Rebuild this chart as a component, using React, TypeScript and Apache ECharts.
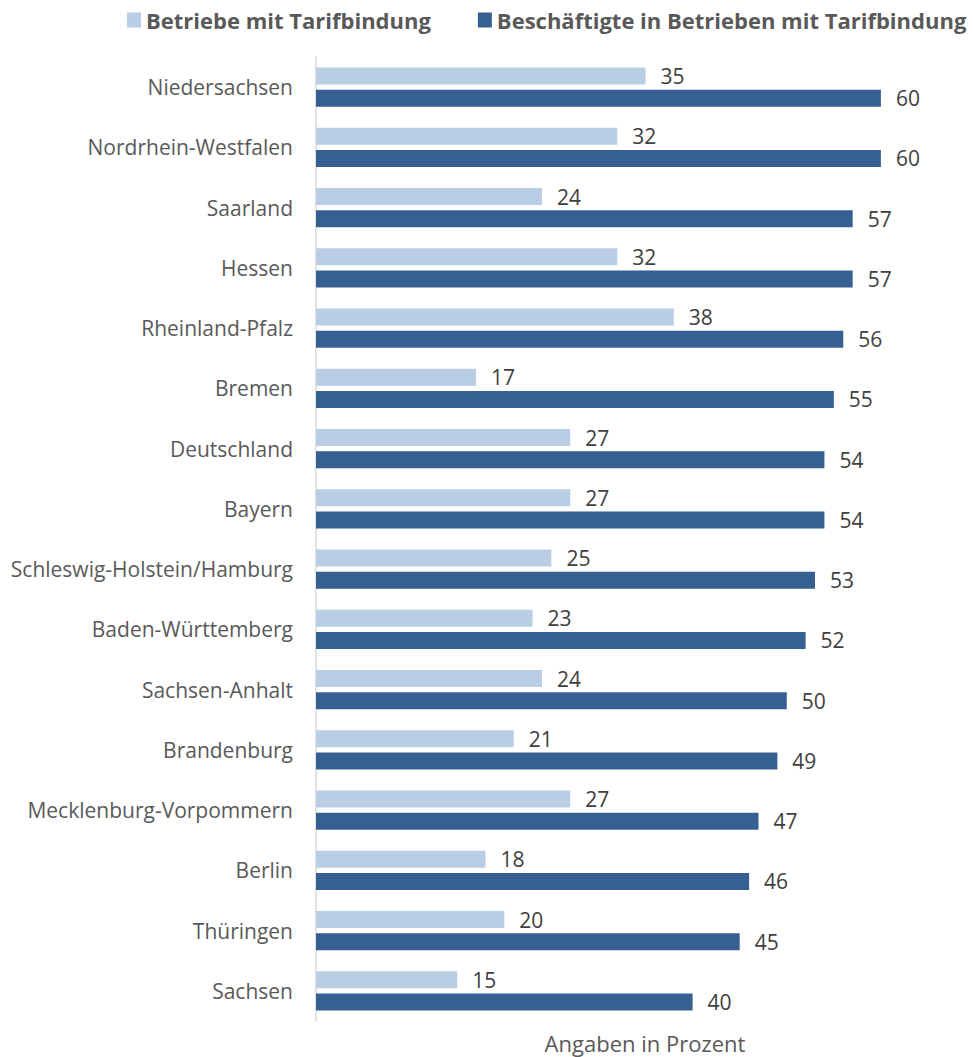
import React, { useEffect, useRef } from "react";
import * as echarts from "echarts";

const categories = [
  "Niedersachsen",
  "Nordrhein-Westfalen",
  "Saarland",
  "Hessen",
  "Rheinland-Pfalz",
  "Bremen",
  "Deutschland",
  "Bayern",
  "Schleswig-Holstein/Hamburg",
  "Baden-Württemberg",
  "Sachsen-Anhalt",
  "Brandenburg",
  "Mecklenburg-Vorpommern",
  "Berlin",
  "Thüringen",
  "Sachsen",
];
const betriebe = [35, 32, 24, 32, 38, 17, 27, 27, 25, 23, 24, 21, 27, 18, 20, 15];
const beschaeftigte = [60, 60, 57, 57, 56, 55, 54, 54, 53, 52, 50, 49, 47, 46, 45, 40];
const seriesNames = ["Betriebe mit Tarifbindung", "Beschäftigte in Betrieben mit Tarifbindung"];
const axisName = "Angaben in Prozent";

const FONT = "'Open Sans', sans-serif";

export default function App() {
  const ref = useRef<HTMLDivElement>(null);
  useEffect(() => {
    document.body.style.margin = "0";
    const chart = echarts.init(ref.current!, null, { renderer: "svg" });
    chart.setOption({
      animation: false,
      backgroundColor: "#ffffff",
      textStyle: { fontFamily: FONT },
      legend: {
        top: 4,
        left: 122,
        width: 900,
        padding: 5,
        itemWidth: 14,
        itemHeight: 15,
        itemGap: 47,
        icon: "rect",
        textStyle: { fontFamily: FONT, fontSize: 22, fontWeight: "bold", color: "#595959" },
        data: seriesNames,
      },
      grid: { left: 316, top: 57, width: 612, height: 964, containLabel: false },
      xAxis: {
        type: "value",
        min: 0,
        max: 65,
        axisLine: { show: false },
        axisTick: { show: false },
        axisLabel: { show: false },
        splitLine: { show: false },
      },
      yAxis: {
        type: "category",
        inverse: true,
        data: categories,
        axisLine: { show: true, lineStyle: { color: "#d9d9d9", width: 1.5 } },
        axisTick: { show: false },
        axisLabel: { fontFamily: FONT, fontSize: 21, color: "#595959", margin: 23 },
      },
      graphic: [
        {
          type: "text",
          x: 645,
          y: 1043,
          style: {
            text: axisName,
            fontFamily: FONT,
            fontSize: 22,
            fill: "#595959",
            align: "center",
            verticalAlign: "middle",
          },
        },
      ],
      series: [
        {
          name: seriesNames[0],
          type: "bar",
          data: betriebe,
          barWidth: 17,
          barGap: "30%",
          itemStyle: { color: "#B9CDE5" },
          label: {
            show: true,
            position: "right",
            distance: 15,
            fontFamily: FONT,
            fontSize: 21,
            color: "#404040",
          },
        },
        {
          name: seriesNames[1],
          type: "bar",
          data: beschaeftigte,
          barWidth: 17,
          itemStyle: { color: "#376092" },
          label: {
            show: true,
            position: "right",
            distance: 15,
            fontFamily: FONT,
            fontSize: 21,
            color: "#404040",
          },
        },
      ],
    });
    return () => chart.dispose();
  }, []);
  return <div ref={ref} style={{ width: 973, height: 1057 }} />;
}
